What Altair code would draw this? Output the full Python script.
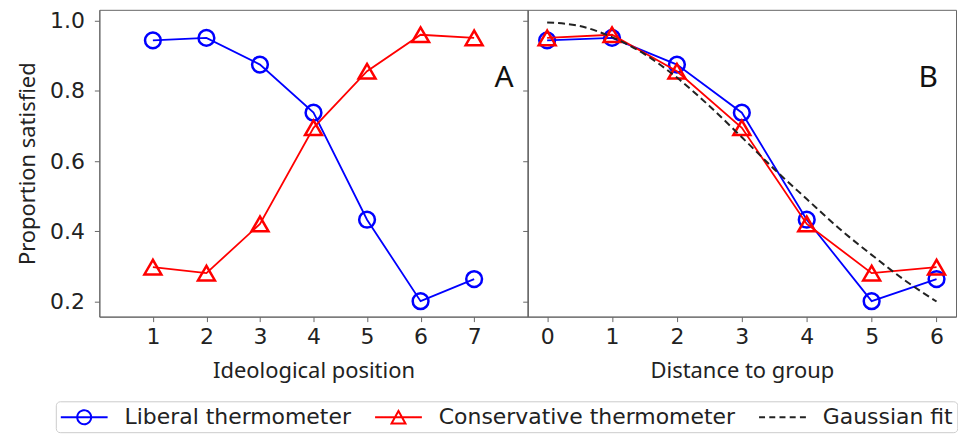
import altair as alt
import pandas as pd

# ---- data ----
positions = [1, 2, 3, 4, 5, 6, 7]
liberal_by_position = [0.944, 0.951, 0.875, 0.738, 0.433, 0.201, 0.264]
conservative_by_position = [0.298, 0.281, 0.421, 0.695, 0.856, 0.960, 0.951]

distances = [0, 1, 2, 3, 4, 5, 6]
liberal_by_distance = [0.944, 0.951, 0.875, 0.738, 0.433, 0.201, 0.264]
conservative_by_distance = [0.951, 0.960, 0.856, 0.695, 0.421, 0.281, 0.298]

fit_x = [0, 0.5, 1, 1.5, 2, 2.5, 3, 3.5, 4, 4.5, 5, 5.5, 6]
fit_y = [0.995, 0.985, 0.953, 0.905, 0.838, 0.757, 0.668, 0.577, 0.492, 0.408, 0.333, 0.262, 0.200]

series_names = ["Liberal thermometer", "Conservative thermometer", "Gaussian fit"]
series_colors = ["#0000ff", "#ff0000", "#222222"]

panel_labels = ["A", "B"]
panel_label_x = [7.56, 5.87]
panel_label_y = [0.836, 0.836]

y_ticks = [0.2, 0.4, 0.6, 0.8, 1.0]

# ---- tables ----
dfA = pd.DataFrame({
    "x": positions + positions,
    "y": liberal_by_position + conservative_by_position,
    "series": [series_names[0]] * 7 + [series_names[1]] * 7,
})
dfB = pd.DataFrame({
    "x": distances + distances + fit_x,
    "y": liberal_by_distance + conservative_by_distance + fit_y,
    "series": [series_names[0]] * 7 + [series_names[1]] * 7 + [series_names[2]] * len(fit_x),
})
labA = pd.DataFrame({"x": [panel_label_x[0]], "y": [panel_label_y[0]], "t": [panel_labels[0]]})
labB = pd.DataFrame({"x": [panel_label_x[1]], "y": [panel_label_y[1]], "t": [panel_labels[1]]})

TITLE_FONT = "Noto Sans"
TICK_FONT = "DejaVu Sans"

# legend handles (unit = 11 px; handle spans 47 px to the right of the symbol slot)
circ = "M-1,0L3.273,0M1.772,0A0.636,0.636 0 1,1 0.5,0A0.636,0.636 0 1,1 1.772,0"
tri = "M-1,0L3.273,0M1.136,-0.57L1.772,0.57L0.5,0.57Z"
dash = ("M-1,0L-0.455,0M-0.068,0L0.477,0M0.864,0L1.409,0"
        "M1.796,0L2.341,0M2.728,0L3.273,0")
shape_expr = ("datum.value === '" + series_names[0] + "' ? '" + circ + "' : "
              "datum.value === '" + series_names[1] + "' ? '" + tri + "' : '" + dash + "'")

legend = alt.Legend(
    title=None, orient="none", legendX=-43.7, legendY=393, direction="horizontal",
    labelFont=TICK_FONT, labelFontSize=22, labelColor="#222222", labelLimit=600,
    labelOffset=41, symbolSize=484, symbolStrokeWidth=2,
    columnPadding=19.5, padding=4, strokeColor="#cccccc", fillColor="white", cornerRadius=4,
    symbolType={"expr": shape_expr}, symbolFillColor="transparent",
    symbolDash=[1, 0], symbolOpacity=1,
)
color_scale = alt.Scale(domain=series_names, range=series_colors)
ydom = alt.Scale(domain=[0.157, 1.031], nice=False, zero=False)


def panel(df, xdomain, xvalues, xtitle, show_y, lab, with_fit):
    x = alt.X("x:Q", scale=alt.Scale(domain=xdomain, nice=False, zero=False),
              axis=alt.Axis(values=xvalues, format="d", title=xtitle))
    if show_y:
        yax = alt.Axis(values=y_ticks, format=".1f", title="Proportion satisfied")
    else:
        yax = alt.Axis(values=y_ticks, labels=False, title=None)
    y = alt.Y("y:Q", scale=ydom, axis=yax)
    base = alt.Chart(df).encode(x=x, y=y)
    color = alt.Color("series:N", scale=color_scale, legend=legend)
    layers = []
    shapes = ["circle", "triangle-up"]
    sizes = [250, 290]
    for i in range(2):
        s = series_names[i]
        layers.append(base.transform_filter(alt.datum.series == s)
                      .mark_line(strokeWidth=1.8).encode(color=color))
        layers.append(base.transform_filter(alt.datum.series == s)
                      .mark_point(shape=shapes[i], filled=False, size=sizes[i],
                                  strokeWidth=2.5, color=series_colors[i], opacity=1))
    if with_fit:
        layers.append(base.transform_filter(alt.datum.series == series_names[2])
                      .mark_line(strokeWidth=2, strokeDash=[7, 4], interpolate="monotone")
                      .encode(color=color))
    layers.append(alt.Chart(lab).mark_text(font=TITLE_FONT, fontSize=30, color="#111111")
                  .encode(x=alt.X("x:Q"), y=alt.Y("y:Q"), text="t:N"))
    return alt.layer(*layers).properties(width=430, height=308)


pA = panel(dfA, [0, 8], positions, "Ideological position", True, labA, False)
pB = panel(dfB, [-0.3, 6.3], distances, "Distance to group", False, labB, True)

chart = alt.hconcat(pA, pB, spacing=0, bounds="flush").properties(
    padding={"left": 7.7, "top": 0, "right": 0, "bottom": 0}
).configure_view(
    stroke="#666666", strokeWidth=1
).configure_axis(
    grid=False, domainColor="#666666", tickColor="#666666", tickSize=5,
    labelFont=TICK_FONT, labelFontSize=22, labelColor="#222222",
    labelFlush=False, labelOverlap=False,
    titleFont=TITLE_FONT, titleFontSize=22, titleFontWeight="normal", titleColor="#222222",
).configure_axisY(labelPadding=10, titlePadding=10
).configure_axisX(labelPadding=5, titlePadding=13.5)

chart.save("out.html", embed_options={"renderer": "svg", "actions": False})
